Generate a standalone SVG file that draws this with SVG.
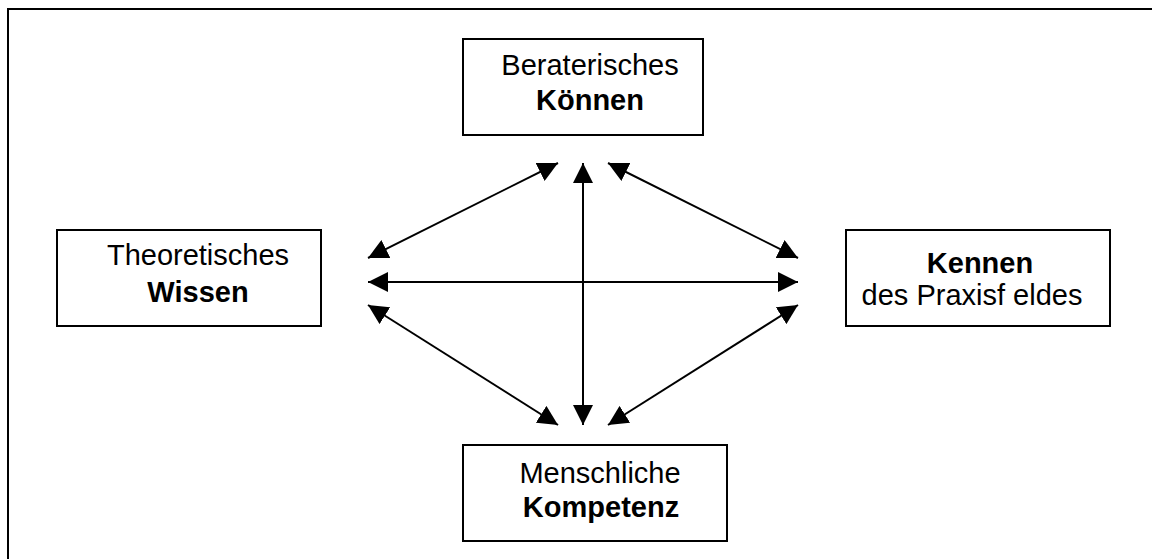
<svg xmlns="http://www.w3.org/2000/svg" width="1152" height="559" viewBox="0 0 1152 559">
<style>
.box{fill:#fff;stroke:#000;stroke-width:2}
.frame{fill:none;stroke:#000;stroke-width:2}
.t{font-family:"Liberation Sans",Arial,sans-serif;font-size:29px;fill:#000;text-anchor:middle}
.b{font-weight:bold}
.c{stroke:#000;stroke-width:2;fill:none;marker-start:url(#ah);marker-end:url(#ah)}
</style>
<defs>
<marker id="ah" viewBox="0 0 20 20" refX="20" refY="10" markerWidth="20" markerHeight="20" markerUnits="userSpaceOnUse" orient="auto-start-reverse">
<path d="M0,0 L20,10 L0,20 Z" fill="#000"/>
</marker>
</defs>
<rect class="frame" x="8" y="9" width="1160" height="570"/>
<g id="connectors">
<line class="c" x1="583" y1="163" x2="583" y2="425"/>
<line class="c" x1="368" y1="282" x2="798" y2="282"/>
<line class="c" x1="368" y1="258" x2="558" y2="163"/>
<line class="c" x1="798" y1="258" x2="608" y2="163"/>
<line class="c" x1="368" y1="305" x2="558" y2="425"/>
<line class="c" x1="798" y1="305" x2="608" y2="425"/>
</g>
<g id="node-beraterisches">
<rect class="box" x="463" y="39" width="240" height="96"/>
<text class="t" x="590" y="75">Beraterisches</text>
<text class="t b" x="590" y="110">Können</text>
</g>
<g id="node-theoretisches">
<rect class="box" x="57" y="230" width="264" height="96"/>
<text class="t" x="198" y="265">Theoretisches</text>
<text class="t b" x="198" y="302">Wissen</text>
</g>
<g id="node-kennen">
<rect class="box" x="846" y="230" width="264" height="96"/>
<text class="t b" x="980" y="273">Kennen</text>
<text class="t" x="972" y="305">des Praxisf<tspan dx="8">eldes</tspan></text>
</g>
<g id="node-menschliche">
<rect class="box" x="463" y="445" width="264" height="96"/>
<text class="t" x="600" y="483">Menschliche</text>
<text class="t b" x="601" y="517">Kompetenz</text>
</g>
</svg>
